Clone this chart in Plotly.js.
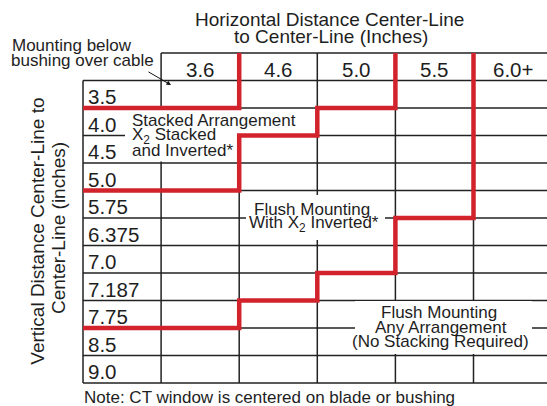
<!DOCTYPE html>
<html><head><meta charset="utf-8">
<script src="https://cdn.plot.ly/plotly-3.0.1.min.js"></script>
<style>html,body{margin:0;padding:0;background:#fff}#chart{width:547px;height:406px}</style>
</head><body><div id="chart"></div>
<script>
const horizontalDistances = ["3.6", "4.6", "5.0", "5.5", "6.0+"];
const verticalDistances = ["3.5", "4.0", "4.5", "5.0", "5.75", "6.375", "7.0", "7.187", "7.75", "8.5", "9.0"];
// Zone boundaries: for each horizontal distance, the last vertical distance inside the zone
const belowBushingCols = ["3.6"];
const belowBushingLastRow = ["3.5"];
const stackedCols = ["3.6", "4.6", "5.0"];
const stackedLastRow = ["5.0", "4.0", "3.5"];
const flushInvertedCols = ["3.6", "4.6", "5.0", "5.5"];
const flushInvertedLastRow = ["7.75", "7.187", "7.0", "5.75"];

const titleLines = ["Horizontal Distance Center-Line", "to Center-Line (Inches)"];
const yTitleLines = ["Vertical Distance Center-Line to", "Center-Line (inches)"];
const belowBushingLabel = ["Mounting below", "bushing over cable"];
const stackedLabel = ["Stacked Arrangement", "X<sub>2</sub> Stacked", "and Inverted*"];
const flushInvertedLabel = ["Flush Mounting", "With X<sub>2</sub> Inverted*"];
const flushAnyLabel = ["Flush Mounting", "Any Arrangement", "(No Stacking Required)"];
const noteText = "Note: CT window is centered on blade or bushing";

// ---- Geometry helpers ----
const W = 547, H = 406;
const X0PX = 83, COLW = 78.1, Y0PX = 53, ROWH = 27.5;
const ML = 81, MT = 51, MB = 21, MR = 0;
const PW = W - ML - MR, PH = H - MT - MB;
const px2x = p => -1 + (p - X0PX) / COLW;
const px2y = p => -1 + (p - Y0PX) / ROWH;
const px2paperX = p => (p - ML) / PW;
const px2paperY = p => 1 - (p - MT) / PH;
const nCols = horizontalDistances.length, nRows = verticalDistances.length;

const fontFam = '"Liberation Sans", Arial, Helvetica, sans-serif';
const textColor = '#1e1e1e';
const gridLine = {color: '#222222', width: 1.5};
const redLine = {color: '#d2232d', width: 4.5};

const shapes = [];
function seg(x0, y0, x1, y1) {
  shapes.push({type: 'line', xref: 'x', yref: 'y', x0, y0, x1, y1, line: gridLine, layer: 'below'});
}
// grid
seg(0, -1, nCols, -1);
for (let r = 0; r <= nRows; r++) seg(-1, r, nCols, r);
seg(-1, 0, -1, nRows);
for (let c = 0; c < nCols; c++) seg(c, -1, c, nRows);

// white label boxes (cover the grid under the zone labels)
function box(x0p, y0p, x1p, y1p) {
  shapes.push({type: 'rect', xref: 'x', yref: 'y', x0: px2x(x0p), y0: px2y(y0p), x1: px2x(x1p), y1: px2y(y1p),
    fillcolor: '#ffffff', line: {width: 0}, layer: 'below'});
}
box(125, 109, 238.5, 161.5);
box(238, 109, 298, 134);
box(246, 195, 385, 240);
box(355, 301, 532, 354);

// red staircase boundaries
function stairPath(cols, lastRows) {
  const pts = [];
  cols.forEach((c, i) => {
    const ci = horizontalDistances.indexOf(c);
    const y = verticalDistances.indexOf(lastRows[i]) + 1;
    pts.push([i === 0 ? -1 : ci, y]);
    pts.push([ci + 1, y]);
  });
  const lastC = horizontalDistances.indexOf(cols[cols.length - 1]) + 1;
  pts.push([lastC, -1]);
  return 'M' + pts.map(p => p[0] + ',' + p[1]).join(' L');
}
[[belowBushingCols, belowBushingLastRow], [stackedCols, stackedLastRow], [flushInvertedCols, flushInvertedLastRow]]
  .forEach(([c, r]) => shapes.push({type: 'path', xref: 'x', yref: 'y', path: stairPath(c, r), line: redLine, layer: 'above'}));

// ---- Annotations ----
const annotations = [];
function txt(text, xpx, baseline, size, xanchor, extra) {
  annotations.push(Object.assign({
    xref: 'paper', yref: 'paper', x: px2paperX(xpx), y: px2paperY(baseline - 0.3465 * size), text, showarrow: false,
    xanchor, yanchor: 'middle', borderpad: 0, borderwidth: 0,
    font: {family: fontFam, size, color: textColor}
  }, extra || {}));
}
// header and row labels
const cellFont = 20.5;
horizontalDistances.forEach((h, i) => annotations.push({
  xref: 'x', yref: 'y', x: i + 0.5, y: -0.5, text: h, showarrow: false, xanchor: 'center', yanchor: 'middle',
  yshift: -2.5, borderpad: 0, borderwidth: 0, font: {family: fontFam, size: cellFont, color: textColor}
}));
verticalDistances.forEach((v, i) => annotations.push({
  xref: 'x', yref: 'y', x: -1, y: i + 0.5, text: v, showarrow: false, xanchor: 'left', yanchor: 'middle',
  xshift: 5, yshift: -2.5, borderpad: 0, borderwidth: 0, font: {family: fontFam, size: cellFont, color: textColor}
}));
// titles
txt(titleLines[0], 329, 26, 19, 'center');
txt(titleLines[1], 331, 43.5, 19, 'center');
annotations.push({xref: 'paper', yref: 'paper', x: px2paperX(38), y: px2paperY(231.7), text: yTitleLines[0], textangle: -90, showarrow: false,
  xanchor: 'center', yanchor: 'middle', borderpad: 0, borderwidth: 0, font: {family: fontFam, size: 19, color: textColor}});
annotations.push({xref: 'paper', yref: 'paper', x: px2paperX(58), y: px2paperY(228), text: yTitleLines[1], textangle: -90, showarrow: false,
  xanchor: 'center', yanchor: 'middle', borderpad: 0, borderwidth: 0, font: {family: fontFam, size: 19, color: textColor}});
// zone labels
const zoneFont = 17;
txt(belowBushingLabel[0], 12, 51.7, zoneFont, 'left');
txt(belowBushingLabel[1], 10.5, 66.7, zoneFont, 'left');
txt(stackedLabel[0], 132, 126.7, zoneFont, 'left');
txt(stackedLabel[1], 132, 141.7, zoneFont, 'left');
txt(stackedLabel[2], 132, 156.7, zoneFont, 'left');
txt(flushInvertedLabel[0], 312, 215, zoneFont, 'center');
txt(flushInvertedLabel[1], 314, 230, zoneFont, 'center');
txt(flushAnyLabel[0], 439, 318.3, zoneFont, 'center');
txt(flushAnyLabel[1], 441, 333.3, zoneFont, 'center');
txt(flushAnyLabel[2], 440, 347.3, zoneFont, 'center');
txt(noteText, 84, 403.3, zoneFont, 'left');
// arrow
annotations.push({xref: 'x', yref: 'y', x: px2x(171), y: px2y(85), ax: -24, ay: -14, text: '', showarrow: true,
  arrowhead: 2, arrowsize: 0.9, arrowwidth: 1, arrowcolor: '#111'});

const layout = {
  width: W, height: H,
  margin: {l: ML, r: MR, t: MT, b: MB, pad: 0},
  paper_bgcolor: '#ffffff', plot_bgcolor: '#ffffff',
  xaxis: {range: [px2x(ML), px2x(W - MR)], visible: false, fixedrange: true},
  yaxis: {range: [px2y(H - MB), px2y(MT)], visible: false, fixedrange: true},
  showlegend: false,
  shapes, annotations
};
Plotly.newPlot('chart', [{type: 'scatter', x: [], y: [], hoverinfo: 'skip'}], layout, {displayModeBar: false, staticPlot: true});
</script>
</body></html>
